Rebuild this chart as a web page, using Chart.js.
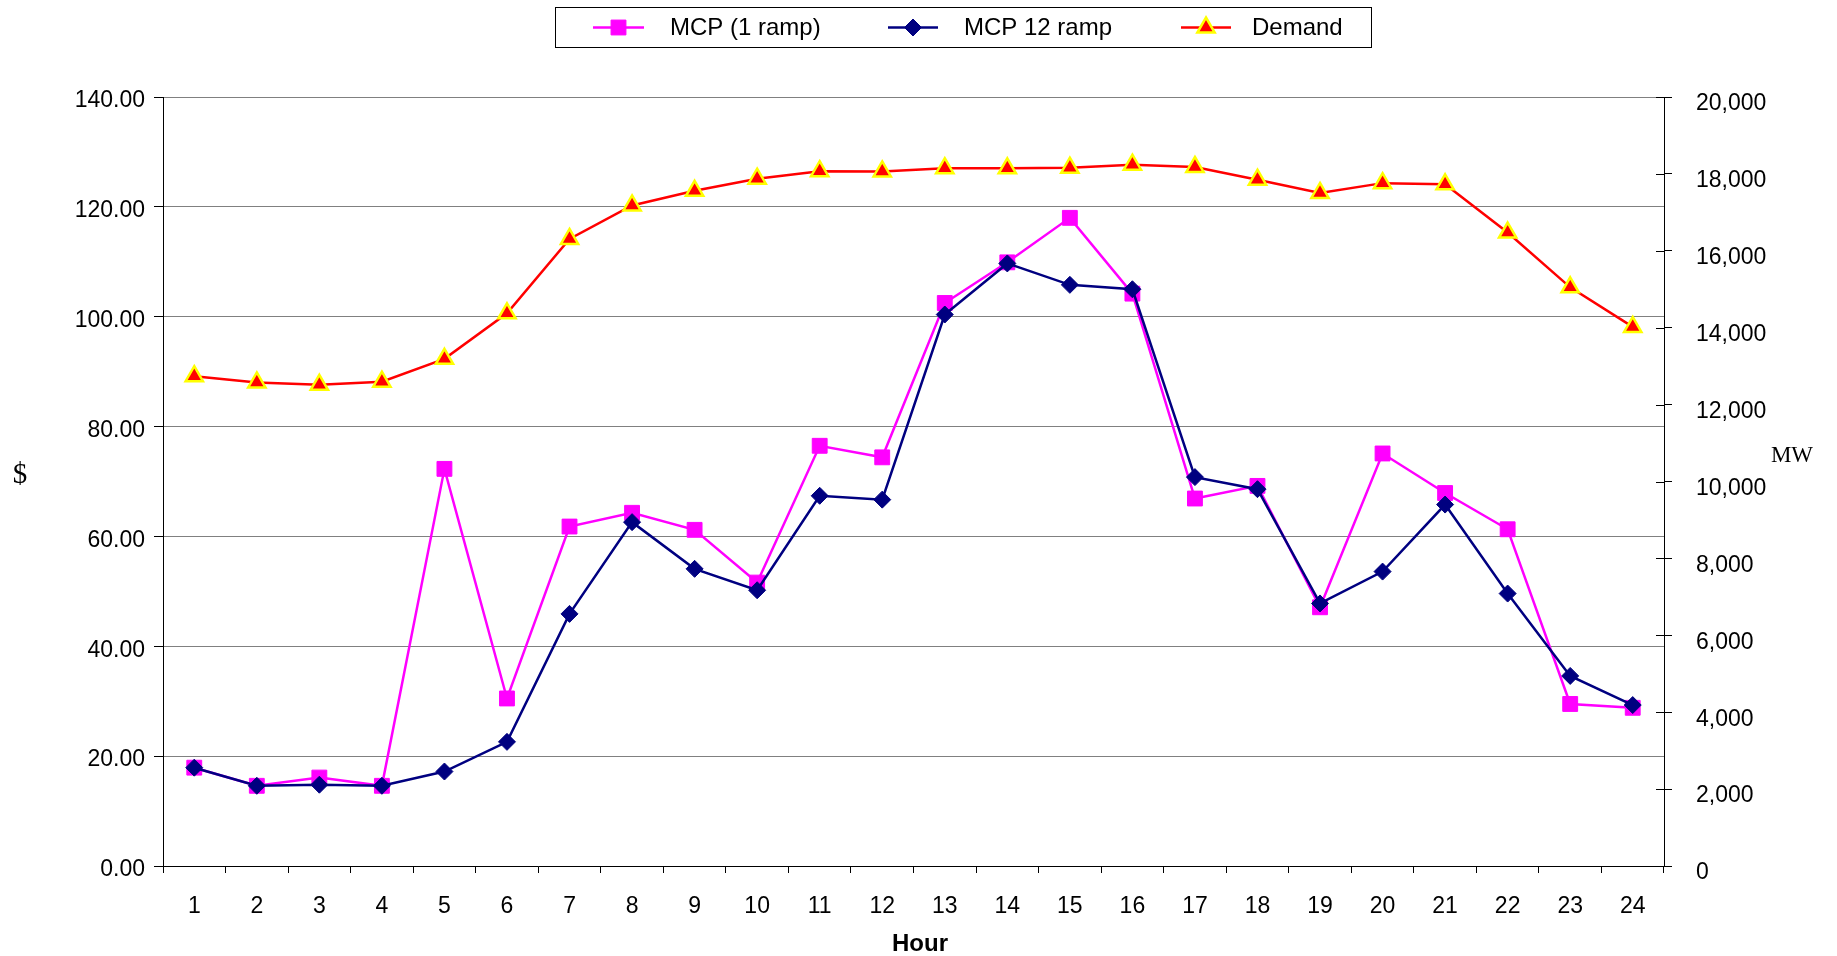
<!DOCTYPE html>
<html>
<head>
<meta charset="utf-8">
<script src="https://cdn.jsdelivr.net/npm/chart.js@4/dist/chart.umd.min.js"></script>
<style>
html,body{margin:0;padding:0;background:#ffffff;}
canvas{display:block;}
</style>
</head>
<body>
<canvas id="chart" width="1837" height="956"></canvas>
<script>
// ---------- data ----------
const hours = ['1','2','3','4','5','6','7','8','9','10','11','12','13','14','15','16','17','18','19','20','21','22','23','24'];
const mcpOneRamp = [17.9, 14.6, 16.1, 14.6, 72.3, 30.5, 61.8, 64.3, 61.2, 51.6, 76.5, 74.4, 102.5, 109.9, 118.0, 104.2, 66.9, 69.2, 47.1, 75.1, 67.9, 61.3, 29.5, 28.8];
const mcpTwelveRamp = [17.9, 14.6, 14.8, 14.6, 17.2, 22.6, 45.9, 62.6, 54.1, 50.2, 67.4, 66.7, 100.4, 109.7, 105.8, 105.0, 70.8, 68.6, 47.8, 53.6, 65.8, 49.6, 34.6, 29.3];
const demandMW = [12740, 12575, 12515, 12595, 13190, 14375, 16310, 17180, 17560, 17875, 18070, 18065, 18150, 18146, 18160, 18240, 18180, 17850, 17505, 17760, 17730, 16475, 15050, 14020];
const priceTickLabels = ['0.00','20.00','40.00','60.00','80.00','100.00','120.00','140.00'];
const mwTickLabels = ['0','2,000','4,000','6,000','8,000','10,000','12,000','14,000','16,000','18,000','20,000'];
const seriesNames = ['MCP (1 ramp)', 'MCP 12 ramp', 'Demand'];
const axisTitles = {left: '$', right: 'MW', bottom: 'Hour'};

// ---------- styles ----------
const SANS = '"Liberation Sans", Arial, sans-serif';
const SERIF = '"Liberation Serif", "Times New Roman", serif';

function drawMarker(ctx, style, r, x, y, fill, stroke, bw) {
  ctx.save();
  ctx.fillStyle = fill; ctx.strokeStyle = stroke; ctx.lineWidth = bw;
  if (Chart.helpers && Chart.helpers.drawPoint) {
    Chart.helpers.drawPoint(ctx, {pointStyle: style, radius: r, borderWidth: bw, rotation: 0}, x, y);
  } else {
    ctx.beginPath();
    if (style === 'rect') { const s = Math.SQRT1_2 * r; ctx.rect(x - s, y - s, 2*s, 2*s); }
    else if (style === 'rectRot') { ctx.moveTo(x-r,y); ctx.lineTo(x,y-r); ctx.lineTo(x+r,y); ctx.lineTo(x,y+r); ctx.closePath(); }
    else { for (let i=0;i<3;i++){ const a = i*2*Math.PI/3; const px = x + Math.sin(a)*r, py = y - Math.cos(a)*r; i?ctx.lineTo(px,py):ctx.moveTo(px,py);} ctx.closePath(); }
    ctx.fill(); if (bw>0) ctx.stroke();
  }
  ctx.restore();
}

const overlayPlugin = {
  id: 'overlay',
  afterDraw(chart) {
    const ctx = chart.ctx;
    ctx.save();
    // inward tick marks of the right axis
    const y2 = chart.scales.y2;
    ctx.strokeStyle = '#000'; ctx.lineWidth = 1;
    y2.ticks.forEach(t => {
      const py = Math.round(y2.getPixelForValue(t.value)) + 0.5;
      ctx.beginPath(); ctx.moveTo(y2.left - 8, py); ctx.lineTo(y2.left, py); ctx.stroke();
    });
    // axis titles (horizontal text)
    ctx.fillStyle = '#000';
    ctx.textAlign = 'center'; ctx.textBaseline = 'middle';
    ctx.font = '29px ' + SERIF;
    ctx.fillText(axisTitles.left, 20, 475);
    ctx.font = '23px ' + SERIF;
    ctx.fillText(axisTitles.right, 1792, 456);
    ctx.font = 'bold 24px ' + SANS;
    ctx.fillText(axisTitles.bottom, 920, 944);

    // legend frame
    const lb = {left: 555.5, top: 7.5, width: 816, height: 40};
    ctx.fillStyle = '#fff';
    ctx.fillRect(lb.left, lb.top, lb.width, lb.height);
    ctx.strokeStyle = '#000'; ctx.lineWidth = 1;
    ctx.strokeRect(lb.left, lb.top, lb.width, lb.height);
    const cy = lb.top + lb.height / 2;
    const pos = [{a: 593, b: 644, t: 670}, {a: 888, b: 938, t: 964}, {a: 1181, b: 1231, t: 1252}];
    chart.data.datasets.forEach((ds, i) => {
      const p = pos[i];
      ctx.strokeStyle = ds.borderColor; ctx.lineWidth = ds.borderWidth;
      ctx.beginPath(); ctx.moveTo(p.a, cy); ctx.lineTo(p.b, cy); ctx.stroke();
      drawMarker(ctx, ds.pointStyle, ds.pointRadius, (p.a + p.b) / 2, cy, ds.pointBackgroundColor, ds.pointBorderColor, ds.pointBorderWidth);
      ctx.fillStyle = '#000'; ctx.textAlign = 'left'; ctx.textBaseline = 'middle';
      ctx.font = '24px ' + SANS;
      ctx.fillText(ds.label, p.t, cy + 1);
    });
    ctx.restore();
  }
};

new Chart(document.getElementById('chart'), {
  type: 'line',
  data: {
    labels: hours,
    datasets: [
      {
        label: seriesNames[0], data: mcpOneRamp, yAxisID: 'y', order: 2,
        borderColor: '#FF00FF', backgroundColor: '#FF00FF', borderWidth: 2.5, tension: 0,
        pointStyle: 'rect', pointRadius: 10.5, pointBorderWidth: 1,
        pointBackgroundColor: '#FF00FF', pointBorderColor: '#FF00FF'
      },
      {
        label: seriesNames[1], data: mcpTwelveRamp, yAxisID: 'y', order: 1,
        borderColor: '#000080', backgroundColor: '#000080', borderWidth: 2.5, tension: 0,
        pointStyle: 'rectRot', pointRadius: 8.5, pointBorderWidth: 1,
        pointBackgroundColor: '#000080', pointBorderColor: '#000080'
      },
      {
        label: seriesNames[2], data: demandMW, yAxisID: 'y2', order: 0,
        borderColor: '#FF0000', backgroundColor: '#FF0000', borderWidth: 2.5, tension: 0,
        pointStyle: 'triangle', pointRadius: 10, pointBorderWidth: 2.5,
        pointBackgroundColor: '#FF0000', pointBorderColor: '#FFFF00'
      }
    ]
  },
  options: {
    responsive: false,
    animation: false,
    devicePixelRatio: 1,
    events: [],
    layout: {padding: {top: 97, left: 0, right: 0, bottom: 0}},
    plugins: {legend: {display: false}, tooltip: {enabled: false}, title: {display: false}},
    scales: {
      x: {
        type: 'category', offset: true,
        grid: {display: true, drawOnChartArea: false, drawTicks: true, tickLength: 7, offset: true, color: '#000', tickColor: '#000'},
        border: {display: true, color: '#000', width: 1},
        ticks: {color: '#000', font: {size: 23, family: SANS}, padding: 20, maxRotation: 0, autoSkip: false},
        afterFit(s) { s.height = 90; }
      },
      y: {
        position: 'left', min: 0, max: 140,
        ticks: {stepSize: 20, color: '#000', font: {size: 23, family: SANS}, padding: 9, labelOffset: 4,
          callback: (v, i) => priceTickLabels[i]},
        grid: {color: '#808080', lineWidth: 1, tickColor: '#000', tickLength: 9, drawTicks: true},
        border: {display: true, color: '#000', width: 1},
        afterFit(s) { s.width = 163; }
      },
      y2: {
        position: 'right', min: 0, max: 20000,
        ticks: {stepSize: 2000, color: '#000', font: {size: 23, family: SANS}, padding: 24, labelOffset: 7,
          callback: (v, i) => mwTickLabels[i]},
        grid: {drawOnChartArea: false, drawTicks: true, tickLength: 8, color: '#000', tickColor: '#000'},
        border: {display: true, color: '#000', width: 1},
        afterFit(s) { s.width = 173; }
      }
    }
  },
  plugins: [overlayPlugin]
});
</script>
</body>
</html>
